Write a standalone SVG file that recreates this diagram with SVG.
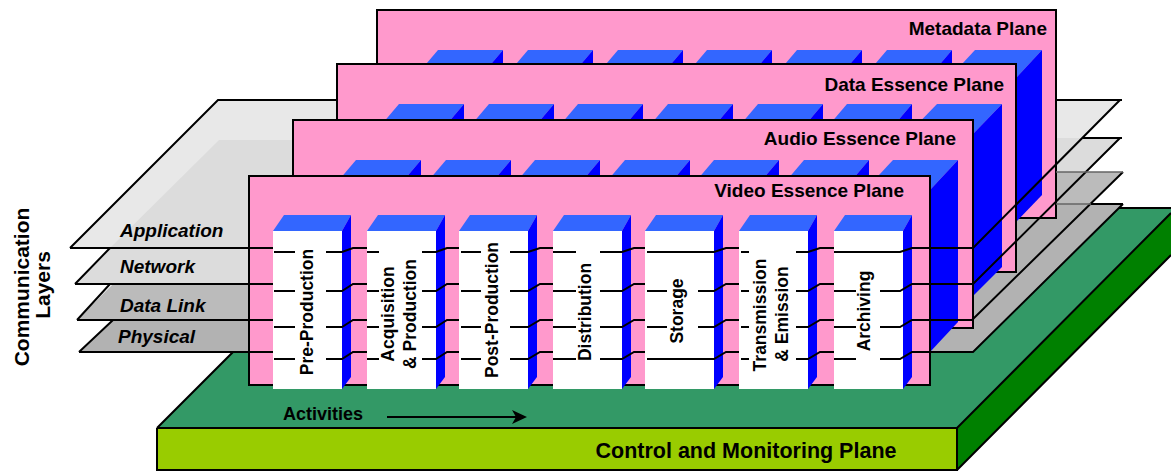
<svg xmlns="http://www.w3.org/2000/svg" width="1171" height="471" viewBox="0 0 1171 471">
<style>
text{font-family:"Liberation Sans",Arial,sans-serif;font-weight:bold;fill:#000}
.k{stroke:#000;stroke-width:2;fill:none;stroke-linejoin:miter}
.plane{fill:#ff99cc;stroke:#000;stroke-width:2}
.top{fill:#3366ff}
.side{fill:#0000ff}
.front{fill:#fff}
.t{font-size:19px;text-anchor:end}
.l{font-size:19px;font-style:italic}
.c{font-size:17.5px;text-anchor:middle}
.g{stroke:#8c8c8c;stroke-width:1.5;fill:none}
</style>
<defs>
<g id="rc"><polygon class="top" points="-65,0 0,0 -17,20 -82,20"/><polygon class="side" points="0,0 0,20 -17,20"/></g>
<g id="fc"><polygon class="top" points="0,16 11,0 78,0 69,16"/><polygon class="side" points="69,16 78,0 78,162 69,174"/><rect class="front" x="0" y="16" width="69" height="158"/></g>
</defs>
<g id="control-plane">
<polygon points="157,428 377,208 1171,208 1171,213 957,428" fill="#339966"/>
<polygon points="957,428 1171,213 1171,255 957,470" fill="#008000"/>
<rect x="157" y="428" width="800" height="42" fill="#99cc00"/>
<path class="k" d="M157,428 L377,208 L1171,208 M157,428 H957 L1171,213 M957,470 L1171,255 M957,428 V470 H157 V428"/>
<text x="746" y="458" font-size="21.5" text-anchor="middle">Control and Monitoring Plane</text>
</g>
<g id="activities">
<text x="283" y="420" font-size="18">Activities</text>
<path class="k" d="M387,417 H518"/>
<polygon points="512,410 527,417 512,424 516,417"/>
</g>
<g id="layer-fills">
<polygon points="70,248 218,100 1120,100 973,248" fill="#e8e8e8"/>
<polygon points="110,248 219,140 500,140 500,248" fill="#dcdcdc"/>
<polygon points="75,284 111,248 500,248 500,284" fill="#dcdcdc"/>
<polygon points="77,320 113,284 500,284 500,320" fill="#bbbbbb"/>
<polygon points="79,352 113,320 500,320 500,352" fill="#b2b2b2"/>
<polygon points="1000,138 1120,138 1086,172 1000,172" fill="#dcdcdc"/>
<polygon points="1000,172 1123,172 1091,204 1000,204" fill="#bbbbbb"/>
<polygon points="700,204 1123,204 973,352 700,352" fill="#b2b2b2"/>
<path class="k" d="M70,248 L218,100 H1000 M110,248 L75,284 M110,284 L77,320 M113,320 L79,352"/>
</g>
<g id="metadata-plane">
<rect class="plane" x="377" y="10" width="679" height="208"/>
<use href="#rc" transform="translate(503,50)"/><use href="#rc" transform="translate(593,50)"/><use href="#rc" transform="translate(683,50)"/><use href="#rc" transform="translate(772,50)"/><use href="#rc" transform="translate(862,50)"/><use href="#rc" transform="translate(952,50)"/>
<polygon class="top" points="975,50 1042,50 1016,78 949,78"/>
<polygon class="side" points="1042,50 1042,195 1016,222 1016,78"/>
<text class="t" x="1047" y="35">Metadata Plane</text>
</g>
<g id="data-essence-plane">
<rect class="plane" x="337" y="64" width="679" height="208"/>
<use href="#rc" transform="translate(464,104)"/><use href="#rc" transform="translate(554,104)"/><use href="#rc" transform="translate(643,104)"/><use href="#rc" transform="translate(733,104)"/><use href="#rc" transform="translate(823,104)"/><use href="#rc" transform="translate(912,104)"/>
<polygon class="top" points="937,104 1002,104 973,134 908,134"/>
<polygon class="side" points="1002,104 1002,267 973,296 973,134"/>
<text class="t" x="1004" y="91">Data Essence Plane</text>
</g>
<g id="audio-essence-plane">
<rect class="plane" x="293" y="120" width="680" height="208"/>
<use href="#rc" transform="translate(421,160)"/><use href="#rc" transform="translate(511,160)"/><use href="#rc" transform="translate(600,160)"/><use href="#rc" transform="translate(690,160)"/><use href="#rc" transform="translate(779,160)"/><use href="#rc" transform="translate(869,160)"/>
<polygon class="top" points="893,160 958,160 930,190 865,190"/>
<polygon class="side" points="958,160 958,322 930,352 930,190"/>
<text class="t" x="956" y="145">Audio Essence Plane</text>
</g>
<g id="video-essence-plane">
<rect class="plane" x="249" y="176" width="681" height="209"/>
<text class="t" x="904" y="197">Video Essence Plane</text>
</g>
<g id="pre-production"><use href="#fc" transform="translate(273,215)"/><text class="c" transform="translate(313,312) rotate(-90)">Pre-Production</text></g>
<g id="acquisition-production"><use href="#fc" transform="translate(367,215)"/><text class="c" transform="translate(394,314) rotate(-90)">Acquisition</text><text class="c" transform="translate(416,314) rotate(-90)">&amp; Production</text></g>
<g id="post-production"><use href="#fc" transform="translate(459,215)"/><text class="c" transform="translate(498,310) rotate(-90)">Post-Production</text></g>
<g id="distribution"><use href="#fc" transform="translate(553,215)"/><text class="c" transform="translate(591,312) rotate(-90)">Distribution</text></g>
<g id="storage"><use href="#fc" transform="translate(645,215)"/><text class="c" transform="translate(683,311) rotate(-90)">Storage</text></g>
<g id="transmission-emission"><use href="#fc" transform="translate(739,215)"/><text class="c" transform="translate(766,315) rotate(-90)">Transmission</text><text class="c" transform="translate(788,314) rotate(-90)">&amp; Emission</text></g>
<g id="archiving"><use href="#fc" transform="translate(834,215)"/><text class="c" transform="translate(870,311) rotate(-90)">Archiving</text></g>
<g id="connectors" class="k">
<path d="M70,248 H273 M75,284 H273 M77,320 H273 M79,352 H273"/>
<path d="M274,252 H295 M326,252 H342 L353,248 H367 M367,252 H379 M422,252 H436 L447,248 H459 M461,252 H481 M510,252 H528 L540,248 H553 M553,252 H576 M600,252 H622 L634,248 H645 M647,252 H714 L726,248 H739 M741,252 H749 M796,252 H808 L820,248 H834 M834,252 H900 L912,248 H973 L1120,100"/>
<path d="M274,291 H295 M326,291 H342 L353,284 H367 M367,291 H379 M422,291 H436 L447,284 H459 M461,291 H481 M510,291 H528 L540,284 H553 M553,291 H576 M600,291 H622 L634,284 H645 M647,291 H667 M698,291 H714 L726,284 H739 M741,291 H749 M796,291 H808 L820,284 H834 M834,291 H856 M880,291 H900 L912,284 H973 L1120,138"/>
<path d="M274,327 H295 M326,327 H342 L353,320 H367 M367,327 H379 M422,327 H436 L447,320 H459 M461,327 H481 M510,327 H528 L540,320 H553 M553,327 H576 M600,327 H622 L634,320 H645 M647,327 H667 M698,327 H714 L726,320 H739 M741,327 H749 M796,327 H808 L820,320 H834 M834,327 H856 M880,327 H900 L912,320 H972 L1123,172"/>
<path d="M274,359 H295 M326,359 H342 L353,352 H367 M367,359 H379 M422,359 H436 L447,352 H459 M461,359 H481 M510,359 H528 L540,352 H553 M553,359 H576 M600,359 H622 L634,352 H645 M647,359 H714 L726,352 H739 M741,359 H749 M796,359 H808 L820,352 H834 M834,359 H856 M880,359 H900 L912,352 H973 L1123,204"/>
<path d="M1056,100 H1122 M1083,138 H1122 M1091,204 H1123"/>
<path d="M1056,172 H1123 M1056,204 H1091" stroke="#666" stroke-width="1.5"/>
</g>
<g id="layer-labels">
<text class="l" x="120" y="237">Application</text>
<text class="l" x="120" y="273">Network</text>
<text class="l" x="120" y="312">Data Link</text>
<text class="l" x="118" y="343">Physical</text>
</g>
<g id="layers-title" font-size="21" text-anchor="middle">
<text transform="translate(29,287) rotate(-90)">Communication</text>
<text transform="translate(50,285) rotate(-90)">Layers</text>
</g>
</svg>
